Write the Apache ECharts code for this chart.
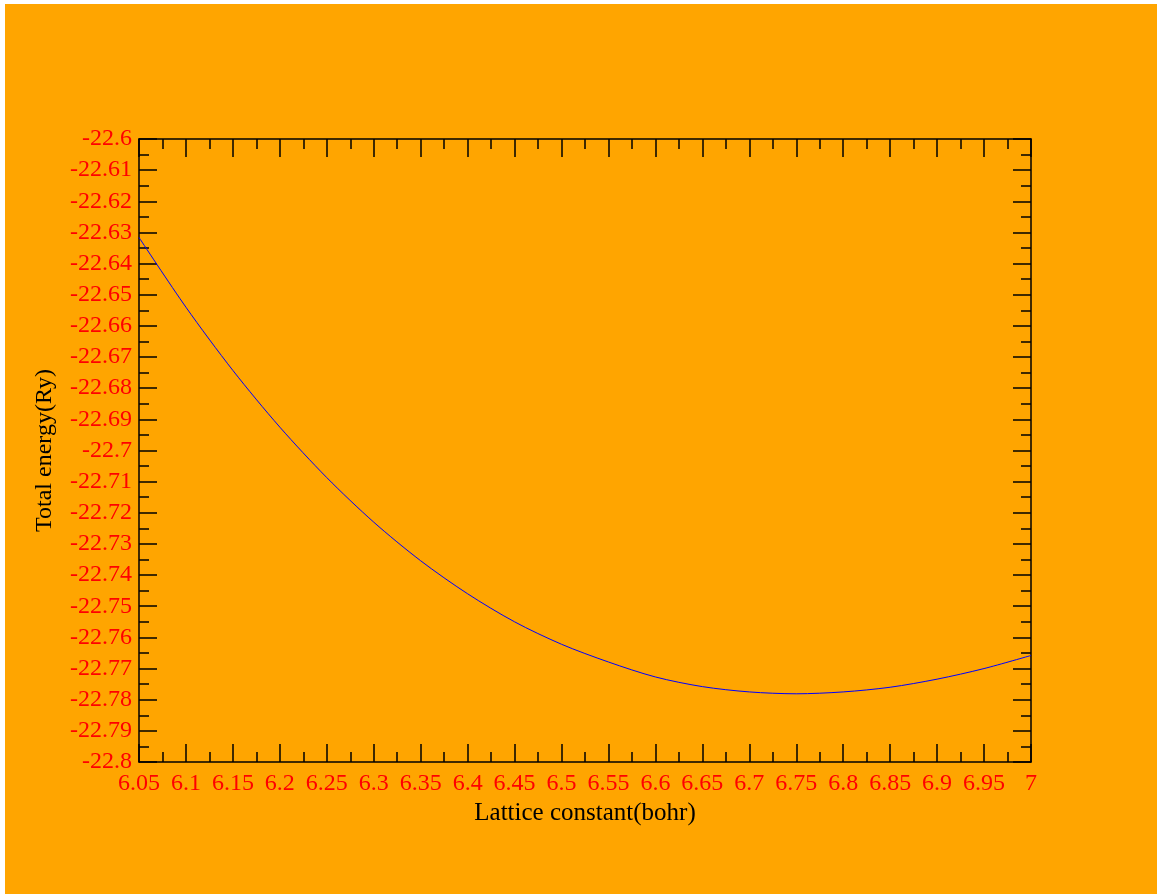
<!DOCTYPE html>
<html>
<head>
<meta charset="utf-8">
<script src="https://cdn.jsdelivr.net/npm/echarts@6/dist/echarts.min.js"></script>
<style>
html,body{margin:0;padding:0;background:#ffffff;width:1157px;height:894px;overflow:hidden;}
#chart{position:absolute;left:5px;top:4px;width:1152px;height:890px;}
</style>
</head>
<body>
<div id="chart"></div>
<script>
// Lattice constant (bohr)
var latticeConstant = [6.05, 6.10, 6.15, 6.20, 6.25, 6.30, 6.35, 6.40, 6.45, 6.50,
                       6.55, 6.60, 6.65, 6.70, 6.75, 6.80, 6.85, 6.90, 6.95, 7.00];
// Total energy (Ry)
var totalEnergy = [-22.6316, -22.6540, -22.6743, -22.6925, -22.7087, -22.7230, -22.7354, -22.7460, -22.7550, -22.7622,
                   -22.7679, -22.7727, -22.7758, -22.7775, -22.7781, -22.7775, -22.7760, -22.7734, -22.7700, -22.7658];
var xTickLabels = ['6.05','6.1','6.15','6.2','6.25','6.3','6.35','6.4','6.45','6.5','6.55','6.6','6.65','6.7','6.75','6.8','6.85','6.9','6.95','7'];
var yTickLabels = ['-22.8','-22.79','-22.78','-22.77','-22.76','-22.75','-22.74','-22.73','-22.72','-22.71','-22.7','-22.69','-22.68','-22.67','-22.66','-22.65','-22.64','-22.63','-22.62','-22.61','-22.6'];

var serif = "'Liberation Serif','Times New Roman',serif";
var X_MIN = 6.05, X_MAX = 7.0, X_INT = 0.05;
var Y_MIN = -22.8, Y_MAX = -22.6, Y_INT = 0.01;

function xFmt(v){ var i = Math.round((v - X_MIN) / X_INT); return xTickLabels[i] !== undefined ? xTickLabels[i] : ''; }
function yFmt(v){ var i = Math.round((v - Y_MIN) / Y_INT); return yTickLabels[i] !== undefined ? yTickLabels[i] : ''; }

var axisLine = {show: true, onZero: false, lineStyle: {color: '#000', width: 1.5}};
var tick = {show: true, inside: true, length: 18, lineStyle: {color: '#000', width: 1.5}};
var minor = {show: true, splitNumber: 2, length: 10, lineStyle: {color: '#000', width: 1.5}};

var chart = echarts.init(document.getElementById('chart'), null, {renderer: 'canvas'});
chart.setOption({
  backgroundColor: '#FFA500',
  animation: false,
  grid: {left: 134, right: 126, top: 135, bottom: 132, containLabel: false},
  xAxis: [{
    type: 'value', position: 'bottom', min: X_MIN, max: X_MAX, interval: X_INT,
    axisLine: axisLine, axisTick: tick, minorTick: minor,
    splitLine: {show: false}, minorSplitLine: {show: false},
    axisLabel: {show: true, color: '#FF0000', fontFamily: serif, fontSize: 24, margin: 10, formatter: xFmt, showMinLabel: true, showMaxLabel: true},
    name: 'Lattice constant(bohr)', nameLocation: 'middle', nameGap: 36,
    nameTextStyle: {color: '#000', fontFamily: serif, fontSize: 25}
  }, {
    type: 'value', position: 'top', min: X_MIN, max: X_MAX, interval: X_INT,
    axisLine: axisLine, axisTick: tick, minorTick: minor,
    splitLine: {show: false}, axisLabel: {show: false}
  }],
  yAxis: [{
    type: 'value', position: 'left', min: Y_MIN, max: Y_MAX, interval: Y_INT,
    axisLine: axisLine, axisTick: tick, minorTick: minor,
    splitLine: {show: false}, minorSplitLine: {show: false},
    axisLabel: {show: true, color: '#FF0000', fontFamily: serif, fontSize: 24, margin: 7, formatter: yFmt, showMinLabel: true, showMaxLabel: true},
    name: 'Total energy(Ry)', nameLocation: 'middle', nameGap: 82, nameRotate: 90,
    nameTextStyle: {color: '#000', fontFamily: serif, fontSize: 24}
  }, {
    type: 'value', position: 'right', min: Y_MIN, max: Y_MAX, interval: Y_INT,
    axisLine: axisLine, axisTick: tick, minorTick: minor,
    splitLine: {show: false}, axisLabel: {show: false}
  }],
  series: [{
    type: 'line',
    xAxisIndex: 0, yAxisIndex: 0,
    data: latticeConstant.map(function(x, i){ return [x, totalEnergy[i]]; }),
    smooth: 0.3,
    showSymbol: false,
    lineStyle: {color: '#0000FF', width: 1},
    clip: true
  }]
});
</script>
</body>
</html>
